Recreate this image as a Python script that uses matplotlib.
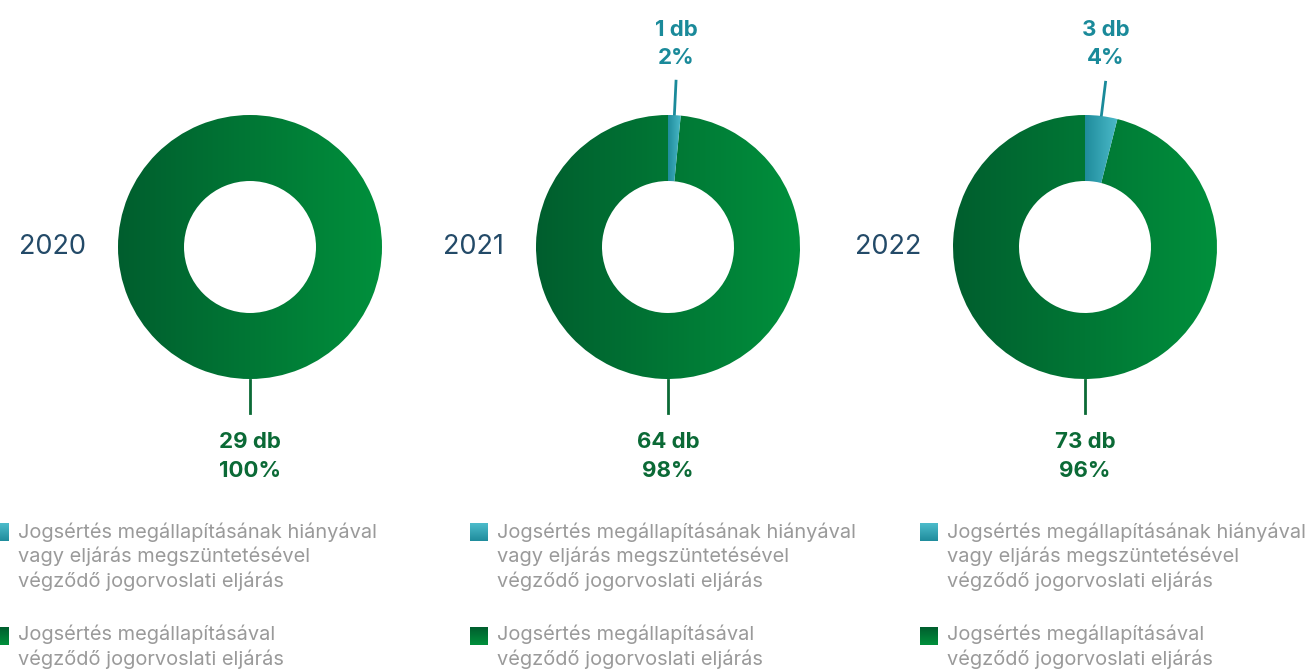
import numpy as np
import matplotlib
matplotlib.use("Agg")
import matplotlib.pyplot as plt
from matplotlib.colors import LinearSegmentedColormap

plt.rcParams['font.family'] = ['Inter', 'DejaVu Sans']

# Data
years = ["2020", "2021", "2022"]
no_violation = [0, 1, 3]      # teal slice
violation = [29, 64, 73]      # green slice
pct_no_violation = ["0%", "2%", "4%"]
pct_violation = ["100%", "98%", "96%"]
legend_labels = [
    "Jogsértés megállapításának hiányával\nvagy eljárás megszüntetésével\nvégződő jogorvoslati eljárás",
    "Jogsértés megállapításával\nvégződő jogorvoslati eljárás",
]

# Colours
green_cmap = LinearSegmentedColormap.from_list("g", ["#005e2e", "#00903c"])
teal_cmap = LinearSegmentedColormap.from_list("t", ["#1f8c9c", "#4dbccb"])
green_text = "#0b6a36"
teal_text = "#1a8a9a"
year_color = "#234a68"
legend_text = "#9a9a9a"

W, H = 1313, 671
fig = plt.figure(figsize=(W / 100, H / 100), dpi=100)
ax = fig.add_axes([0, 0, 1, 1])

centers_x = [250, 668, 1085]
cy = 247
R = 132
grad = np.linspace(0, 1, 256).reshape(1, -1)

for i, year in enumerate(years):
    cx = centers_x[i]
    vals = [no_violation[i], violation[i]]
    # y axis is inverted (pixel coords), so -90 is "up" and counterclock runs clockwise on screen
    wedges, _ = ax.pie(vals, center=(cx, cy), radius=R, startangle=-90,
                       counterclock=True, wedgeprops=dict(width=R * 0.5, linewidth=0),
                       frame=False)

    # gradient fills clipped to wedges
    gw = wedges[1]
    im = ax.imshow(grad, cmap=green_cmap, extent=(cx - R, cx + R, cy + R, cy - R),
                   aspect="auto", zorder=2, interpolation="bicubic")
    im.set_clip_path(gw)
    gw.set_facecolor("none")

    if vals[0] > 0:
        tw = wedges[0]
        ang = np.deg2rad(tw.theta2)
        xe = cx + R * np.cos(ang)
        im2 = ax.imshow(grad, cmap=teal_cmap, extent=(cx, xe + 1, cy, cy - R),
                        aspect="auto", zorder=3, interpolation="bicubic")
        im2.set_clip_path(tw)
        tw.set_facecolor("none")

        mid = np.deg2rad((tw.theta1 + tw.theta2) / 2)
        x0, y0 = cx + (R + 1) * np.cos(mid), cy + (R + 1) * np.sin(mid)
        x1, y1 = cx + (R + 34) * np.cos(mid), cy + (R + 34) * np.sin(mid)
        ax.plot([x0, x1], [y0, y1], color=teal_text, lw=2, zorder=4)
        ax.text(x1, 30, f"{vals[0]} db", ha="center", va="center",
                fontsize=16, fontweight="bold", color=teal_text)
        ax.text(x1, 58, pct_no_violation[i], ha="center", va="center",
                fontsize=16, fontweight="bold", color=teal_text)

    # bottom label for green part
    ax.plot([cx, cx], [cy + R + 1, cy + R + 34], color=green_text, lw=2, zorder=4)
    ax.text(cx, 442, f"{vals[1]} db", ha="center", va="center",
            fontsize=16, fontweight="bold", color=green_text)
    ax.text(cx, 471, pct_violation[i], ha="center", va="center",
            fontsize=16, fontweight="bold", color=green_text)

    # year label
    ax.text(cx - R - 32, cy, year, ha="right", va="center",
            fontsize=19.5, color=year_color)

# legends
legend_x = [-9, 470, 920]
sq = 18
sq_grad = np.linspace(0, 1, 64).reshape(-1, 1)
for lx in legend_x:
    ax.imshow(sq_grad[::-1], cmap=teal_cmap, extent=(lx, lx + sq, 541, 523),
              aspect="auto", interpolation="bicubic")
    ax.imshow(sq_grad, cmap=green_cmap, extent=(lx, lx + sq, 645, 627),
              aspect="auto", interpolation="bicubic")
    ax.text(lx + 27, 522, legend_labels[0], ha="left", va="top",
            fontsize=14.4, color=legend_text, linespacing=1.35)
    ax.text(lx + 27, 625, legend_labels[1], ha="left", va="top",
            fontsize=14.4, color=legend_text, linespacing=1.35)

ax.set_xlim(0, W)
ax.set_ylim(H, 0)
ax.axis("off")
fig.savefig("out.png", dpi=100)
